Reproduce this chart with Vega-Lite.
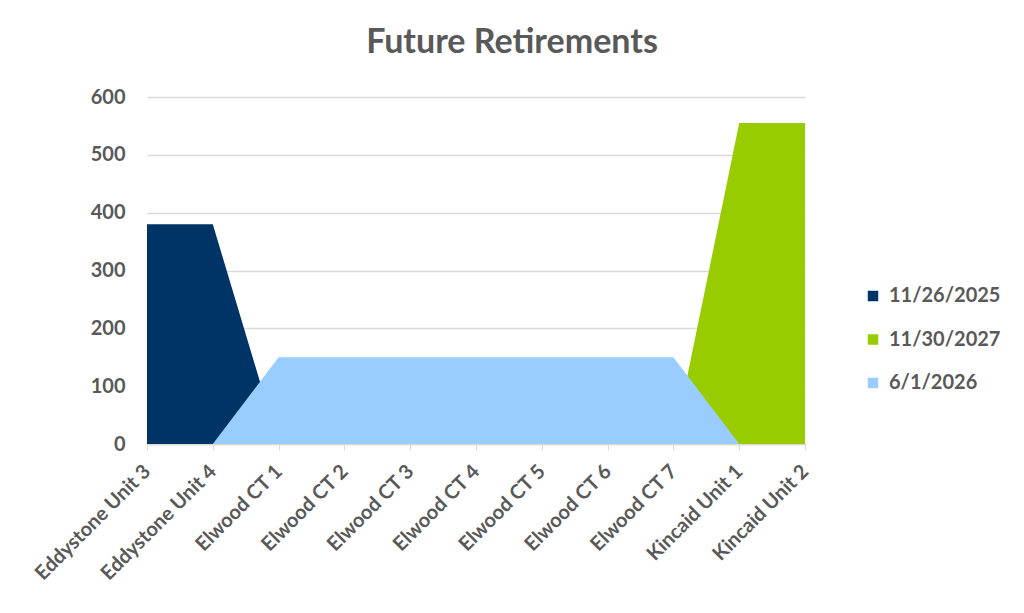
{
  "$schema": "https://vega.github.io/schema/vega-lite/v6.json",
  "autosize": "none",
  "width": 658,
  "height": 347,
  "padding": {"left": 147, "top": 97, "right": 219, "bottom": 169},
  "background": "white",
  "title": {
    "text": "Future Retirements",
    "font": "Lato",
    "fontSize": 34,
    "fontWeight": "bold",
    "color": "#595959",
    "anchor": "middle",
    "dx": 36,
    "offset": 27
  },
  "data": {
    "values": [
      {"unit": "Eddystone Unit 3", "series": "11/26/2025", "mw": 380},
      {"unit": "Eddystone Unit 4", "series": "11/26/2025", "mw": 380},
      {"unit": "Elwood CT 1", "series": "11/26/2025", "mw": 0},
      {"unit": "Elwood CT 2", "series": "11/26/2025", "mw": 0},
      {"unit": "Elwood CT 3", "series": "11/26/2025", "mw": 0},
      {"unit": "Elwood CT 4", "series": "11/26/2025", "mw": 0},
      {"unit": "Elwood CT 5", "series": "11/26/2025", "mw": 0},
      {"unit": "Elwood CT 6", "series": "11/26/2025", "mw": 0},
      {"unit": "Elwood CT 7", "series": "11/26/2025", "mw": 0},
      {"unit": "Kincaid Unit 1", "series": "11/26/2025", "mw": 0},
      {"unit": "Kincaid Unit 2", "series": "11/26/2025", "mw": 0},
      {"unit": "Eddystone Unit 3", "series": "11/30/2027", "mw": 0},
      {"unit": "Eddystone Unit 4", "series": "11/30/2027", "mw": 0},
      {"unit": "Elwood CT 1", "series": "11/30/2027", "mw": 0},
      {"unit": "Elwood CT 2", "series": "11/30/2027", "mw": 0},
      {"unit": "Elwood CT 3", "series": "11/30/2027", "mw": 0},
      {"unit": "Elwood CT 4", "series": "11/30/2027", "mw": 0},
      {"unit": "Elwood CT 5", "series": "11/30/2027", "mw": 0},
      {"unit": "Elwood CT 6", "series": "11/30/2027", "mw": 0},
      {"unit": "Elwood CT 7", "series": "11/30/2027", "mw": 0},
      {"unit": "Kincaid Unit 1", "series": "11/30/2027", "mw": 555},
      {"unit": "Kincaid Unit 2", "series": "11/30/2027", "mw": 555},
      {"unit": "Eddystone Unit 3", "series": "6/1/2026", "mw": 0},
      {"unit": "Eddystone Unit 4", "series": "6/1/2026", "mw": 0},
      {"unit": "Elwood CT 1", "series": "6/1/2026", "mw": 150},
      {"unit": "Elwood CT 2", "series": "6/1/2026", "mw": 150},
      {"unit": "Elwood CT 3", "series": "6/1/2026", "mw": 150},
      {"unit": "Elwood CT 4", "series": "6/1/2026", "mw": 150},
      {"unit": "Elwood CT 5", "series": "6/1/2026", "mw": 150},
      {"unit": "Elwood CT 6", "series": "6/1/2026", "mw": 150},
      {"unit": "Elwood CT 7", "series": "6/1/2026", "mw": 150},
      {"unit": "Kincaid Unit 1", "series": "6/1/2026", "mw": 0},
      {"unit": "Kincaid Unit 2", "series": "6/1/2026", "mw": 0}
    ]
  },
  "encoding": {
    "x": {
      "field": "unit",
      "type": "ordinal",
      "sort": null,
      "scale": {"type": "point", "padding": 0},
      "axis": {
        "title": null,
        "labelAngle": -45,
        "labelAlign": "right",
        "labelBaseline": "middle",
        "labelFont": "Lato",
        "labelFontSize": 20,
        "labelFontWeight": "bold",
        "labelColor": "#595959",
        "labelPadding": 18,
        "domainColor": "#d9d9d9",
        "domainWidth": 1.5,
        "tickColor": "#d9d9d9",
        "tickSize": 6,
        "grid": false
      }
    },
    "y": {
      "field": "mw",
      "type": "quantitative",
      "scale": {"domain": [0, 600], "nice": false},
      "axis": {
        "title": null,
        "values": [0, 100, 200, 300, 400, 500, 600],
        "labelFont": "Lato",
        "labelFontSize": 20,
        "labelFontWeight": "bold",
        "labelColor": "#595959",
        "labelPadding": 22,
        "domain": false,
        "ticks": false,
        "gridColor": "#d9d9d9",
        "gridWidth": 1.5
      }
    },
    "color": {
      "field": "series",
      "type": "nominal",
      "scale": {
        "domain": ["11/26/2025", "11/30/2027", "6/1/2026"],
        "range": ["#003366", "#99cc00", "#99ccff"]
      },
      "legend": {
        "title": null,
        "orient": "none",
        "legendX": 716,
        "legendY": 189,
        "symbolType": "square",
        "symbolSize": 110,
        "symbolStrokeWidth": 0,
        "labelFont": "Lato",
        "labelFontSize": 20,
        "labelFontWeight": "bold",
        "labelColor": "#595959",
        "labelOffset": 6,
        "rowPadding": 23.5
      }
    }
  },
  "layer": [
    {
      "transform": [{"filter": "datum.series === '11/26/2025'"}],
      "mark": {"type": "area", "opacity": 1}
    },
    {
      "transform": [{"filter": "datum.series === '11/30/2027'"}],
      "mark": {"type": "area", "opacity": 1}
    },
    {
      "transform": [{"filter": "datum.series === '6/1/2026'"}],
      "mark": {"type": "area", "opacity": 1}
    }
  ],
  "config": {
    "view": {"stroke": null}
  }
}
